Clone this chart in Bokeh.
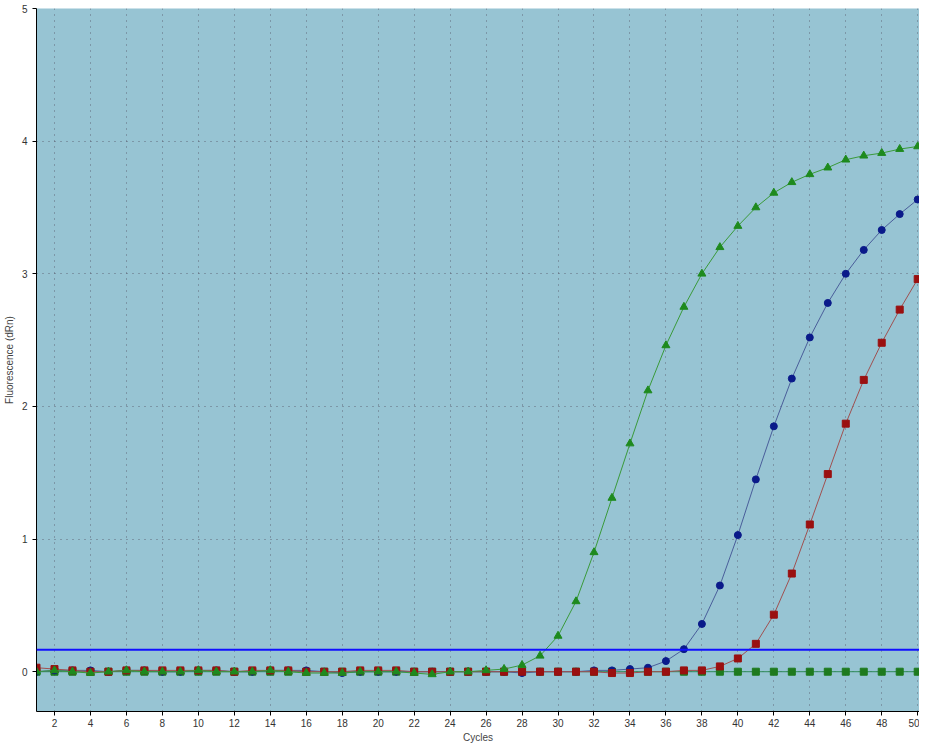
from bokeh.plotting import figure
from bokeh.embed import file_html
from bokeh.resources import INLINE
from bokeh.models import FixedTicker, Span

cycles = list(range(1, 51))
green = [0.0,0.01,0.0,-0.01,0.0,0.01,0.0,0.0,0.0,0.01,0.0,0.0,0.0,0.01,0.0,-0.01,-0.01,-0.01,0.0,0.0,0.0,-0.01,-0.02,0.0,0.0,0.01,0.02,0.05,0.12,0.27,0.53,0.9,1.31,1.72,2.12,2.46,2.75,3.0,3.2,3.36,3.5,3.61,3.69,3.75,3.8,3.86,3.89,3.91,3.94,3.96]
blue = [0.0,0.01,0.01,0.01,0.0,0.01,0.01,0.0,0.0,0.01,0.01,0.0,0.0,0.01,0.01,0.01,0.0,-0.01,0.0,0.0,0.0,0.0,0.0,0.0,0.0,0.0,0.0,-0.01,0.0,0.0,0.0,0.01,0.01,0.02,0.03,0.08,0.17,0.36,0.65,1.03,1.45,1.85,2.21,2.52,2.78,3.0,3.18,3.33,3.45,3.56]
red = [0.03,0.02,0.01,0.0,0.0,0.01,0.01,0.01,0.01,0.01,0.01,0.0,0.01,0.01,0.01,0.0,0.0,0.0,0.01,0.01,0.01,0.0,0.0,0.0,0.0,0.0,0.0,0.0,0.0,0.0,0.0,0.0,-0.01,-0.01,0.0,0.0,0.01,0.01,0.04,0.1,0.21,0.43,0.74,1.11,1.49,1.87,2.2,2.48,2.73,2.96]
ntc = [0.0]*50
threshold = 0.165
xticks = list(range(2, 51, 2))
yticks = [0, 1, 2, 3, 4, 5]

p = figure(width=919, height=745, x_range=(1, 50.1), y_range=(-0.3, 5),
           output_backend="svg", toolbar_location=None,
           background_fill_color="#97C4D3", border_fill_color="white",
           min_border_left=34, min_border_right=0, min_border_top=8, min_border_bottom=16)
p.xaxis.ticker = FixedTicker(ticks=xticks)
p.yaxis.ticker = FixedTicker(ticks=yticks)
p.xaxis.axis_label = "Cycles"
p.yaxis.axis_label = "Fluorescence (dRn)"
for ax in (p.xaxis[0], p.yaxis[0]):
    ax.axis_label_text_font = "Liberation Sans"
    ax.major_label_text_font = "Liberation Sans"
    ax.axis_label_text_font_style = "normal"
    ax.axis_label_text_font_size = "10px"
    ax.major_label_text_font_size = "10px"
    ax.major_label_text_color = "#333333"
    ax.axis_label_standoff = 4
    ax.minor_tick_line_color = None
    ax.major_tick_in = 0
    ax.major_tick_out = 4
p.xaxis.axis_label_standoff = 2
p.xaxis.major_label_standoff = 3
p.xgrid.grid_line_color = "#556"
p.ygrid.grid_line_color = "#556"
p.xgrid.grid_line_dash = "1 5"
p.ygrid.grid_line_dash = "1 5"
p.xgrid.grid_line_alpha = 0.8
p.ygrid.grid_line_alpha = 0.8
p.outline_line_color = None

p.line(cycles, ntc, color="#2E8B57", line_width=1)
p.scatter(cycles, ntc, marker="square", size=7, color="#1E7A1E")
p.line(cycles, blue, color="#4A5E9A", line_width=1)
p.scatter(cycles, blue, marker="circle", size=7, color="#0A1A8A")
p.line(cycles, red, color="#A05050", line_width=1)
p.scatter(cycles, red, marker="square", size=7, color="#9A1010")
p.line(cycles, green, color="#3A9A3A", line_width=1)
p.scatter(cycles, green, marker="triangle", size=8, color="#1E8A1E")
p.add_layout(Span(location=threshold, dimension="width", line_color="#1010FF", line_width=2))

open("out.html", "w").write(file_html(p, INLINE))
